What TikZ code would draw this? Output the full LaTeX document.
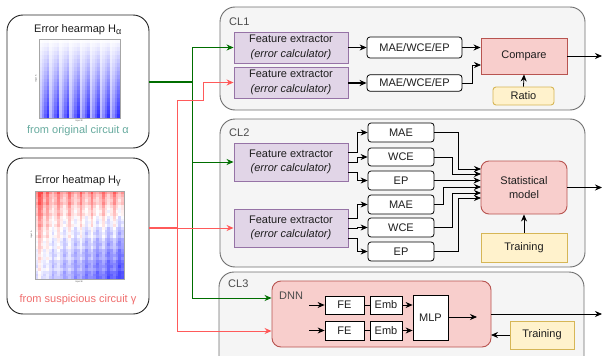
\documentclass[tikz,border=0pt]{standalone}
\usepackage{fontspec}
\setmainfont{Liberation Sans}
\usetikzlibrary{arrows.meta}
\definecolor{gline}{RGB}{0,110,0}
\definecolor{rline}{RGB}{255,90,90}
\definecolor{rtip}{RGB}{255,50,50}
\definecolor{feF}{RGB}{225,213,231}
\definecolor{feD}{RGB}{150,115,166}
\definecolor{pkF}{RGB}{248,206,204}
\definecolor{pkD}{RGB}{184,84,80}
\definecolor{ylF}{RGB}{255,242,204}
\definecolor{ylD}{RGB}{214,182,86}
\definecolor{clF}{RGB}{245,245,245}
\definecolor{clD}{RGB}{110,110,110}
\definecolor{tealT}{RGB}{103,171,159}
\definecolor{redT}{RGB}{240,110,110}
\definecolor{txt}{RGB}{30,30,30}
\tikzset{
  container/.style={draw=clD, fill=clF, rounded corners=15pt, line width=0.9pt},
  febox/.style={draw=feD, fill=feF, line width=0.9pt, minimum width=114pt, inner sep=0pt, align=center, text=txt, font=\fontsize{11}{14.5}\selectfont},
  wbox/.style={draw=black, fill=white, rounded corners=3pt, line width=0.8pt, inner sep=0pt, text=txt},
  sqbox/.style={draw=black, fill=white, line width=0.8pt, inner sep=0pt, text=txt},
  pkbox/.style={draw=pkD, fill=pkF, line width=0.9pt, inner sep=0pt, align=center, text=txt, font=\fontsize{11}{14}\selectfont},
  ylbox/.style={draw=ylD, fill=ylF, line width=0.9pt, inner sep=0pt, text=txt},
  srcbox/.style={draw=black!85, fill=white, rounded corners=16pt, line width=0.9pt},
  arr/.style={->, line width=0.8pt, black},
  garr/.style={-{Stealth[length=7pt,width=6pt]}, line width=0.9pt, gline},
  rarr/.style={-{Stealth[length=7pt,width=6pt,fill=rtip]}, draw=rline, line width=0.9pt},
  lbl/.style={text=txt!80, inner sep=0pt, anchor=west},
  tinyl/.style={font=\fontsize{2.2}{2.5}\selectfont, text=black!70, inner sep=0pt}
}
\begin{document}
\begin{tikzpicture}[x=1pt,y=-1pt, font=\fontsize{11}{12}\selectfont, >={Stealth[length=7pt,width=6pt]}]
\useasboundingbox (0,0) rectangle (603,356);
\clip (0,0) rectangle (603,356);

% ---------- source boxes ----------
\draw[srcbox] (7,15) rectangle (149,148);
\draw[srcbox] (7,158) rectangle (149,314);
\node[text=txt, inner sep=0pt] (ta) at (78,30) {Error hearmap H\textsubscript{\fontsize{9}{9}\selectfont α}};
\node[text=tealT, inner sep=0pt] (fa) at (78,131) {from original circuit α};
\node[text=txt, inner sep=0pt] (tg) at (78,181) {Error heatmap H\textsubscript{\fontsize{9}{9}\selectfont γ}};
\node[text=redT, inner sep=0pt] (fg) at (78,300) {from suspicious circuit γ};

% heatmap alpha
\foreach \i in {0,...,31}{
  \foreach \j in {0,...,19}{
    \pgfmathsetmacro\p{mod(\i,4)/3}
    \pgfmathsetmacro\t{(\j+0.5)/20}
    \pgfmathsetmacro\a{0.82*\t*(0.35+0.65*\p)}
    \pgfmathsetmacro\R{1-\a}
    \definecolor{hc}{rgb}{\R,\R,1}
    \fill[hc] ({39+\i*81/32},{39+\j*79/20}) rectangle ++(2.9,4.3);
  }
}
\draw[black!35, line width=0.4pt] (39,39) rectangle (120,118);
\node[tinyl] (ia) at (79,121) {Input B};
\node[tinyl, rotate=90] (ib) at (36,79) {Input A};

% heatmap gamma
\foreach \i in {0,...,31}{
  \foreach \j in {0,...,31}{
    \pgfmathsetmacro\u{\i/31}
    \pgfmathsetmacro\w{\j/31}
    \pgfmathsetmacro\v{0.5*(1-\w)*(1-\w) - 0.85*\w*\u - 0.1*\w + 0.3*(mod(\i,4)==0)*(1-0.7*\w) - 0.15*(mod(\i,4)==2) + 0.1*(mod(\j,4)==0) - 0.06*(mod(\i+\j,3)==0) + 0.55*(\i>0)*(\i<3)*(1-0.7*\w) - 0.2*(\i==0)}
    \pgfmathsetmacro\a{min(1,abs(\v))*0.72}
    \pgfmathsetmacro\R{\v>=0 ? 1 : 1-\a}
    \pgfmathsetmacro\B{\v>=0 ? 1-\a : 1}
    \pgfmathsetmacro\G{1-\a}
    \definecolor{hc}{rgb}{\R,\G,\B}
    \fill[hc] ({35+\i*89/32},{191+\j*88/32}) rectangle ++(3.1,3.1);
  }
}
\draw[black!35, line width=0.4pt] (35,191) rectangle (124,279);
\node[tinyl] (ic) at (79,282) {Input B};
\node[tinyl, rotate=90] (id) at (31.5,235) {Input A};

% ---------- containers ----------
\draw[container] (220,7) rectangle (585,110);
\draw[container] (220,119) rectangle (585,267);
\draw[container] (219,272) rectangle (584,380);
\node[lbl] (cl1) at (229,22) {CL1};
\node[lbl] (cl2) at (229,133) {CL2};
\node[lbl] (cl3) at (228,284) {CL3};

% ---------- CL1 ----------
\node[febox, minimum height=31pt] (fea1) at (291,47.5) {Feature extractor\\\textit{(error calculator)}};
\node[febox, minimum height=31pt] (fea2) at (291,82.5) {Feature extractor\\\textit{(error calculator)}};
\node[wbox, minimum width=95pt, minimum height=21pt] (m1) at (414.5,47.5) {MAE/WCE/EP};
\node[wbox, minimum width=95pt, minimum height=16.5pt] (m2) at (414.5,83) {MAE/WCE/EP};
\node[pkbox, minimum width=86pt, minimum height=36pt] (cmp) at (524,56) {Compare};
\node[ylbox, minimum width=61pt, minimum height=18pt, rounded corners=3pt] (ratio) at (523.5,96) {Ratio};
\coordinate (o1) at (602,56);

\draw[arr] (fea1.east) -- (m1.west);
\draw[arr, line width=1.6pt] (fea2.east |- m2.west) -- (m2.west);
\draw[arr] (m1.east) -- (m1.east -| cmp.west);
\draw[arr] (m2.east) -- (472,83) -- (472,65) -- (481,65);
\draw[arr] (ratio.north) -- (cmp.south);
\draw[arr] (cmp.east) -- (o1);

% ---------- CL2 ----------
\node[febox, minimum height=38pt] (feb1) at (291,162) {Feature extractor\\\textit{(error calculator)}};
\node[febox, minimum height=38pt] (feb2) at (291,228) {Feature extractor\\\textit{(error calculator)}};
\node[wbox, minimum width=66pt, minimum height=19pt] (a1) at (401,132.5) {MAE};
\node[wbox, minimum width=66pt, minimum height=18pt] (b1) at (401,157) {WCE};
\node[wbox, minimum width=66pt, minimum height=19pt] (c1) at (401,180.5) {EP};
\node[wbox, minimum width=66pt, minimum height=19pt] (a2) at (401,204.5) {MAE};
\node[wbox, minimum width=66pt, minimum height=19pt] (b2) at (401,227.5) {WCE};
\node[wbox, minimum width=66pt, minimum height=19pt] (c2) at (401,251.5) {EP};
\node[pkbox, minimum width=86pt, minimum height=53pt, rounded corners=8pt] (sm) at (524,187.5) {Statistical\\model};
\node[ylbox, minimum width=86pt, minimum height=29pt] (tr) at (524,247.5) {Training};
\coordinate (o2) at (602,187.5);

\draw[arr] ([yshift=10pt]feb1.east) -- (357,152) -- (357,132.5) -- (a1.west);
\draw[arr] (feb1.east) -- (357,162) -- (357,157) -- (b1.west);
\draw[arr] ([yshift=-10pt]feb1.east) -- (357,172) -- (357,180.5) -- (c1.west);
\draw[arr] ([yshift=10pt]feb2.east) -- (357,218) -- (357,204.5) -- (a2.west);
\draw[arr] (feb2.east) -- (357,228) -- (357,227.5) -- (b2.west);
\draw[arr] ([yshift=-10pt]feb2.east) -- (357,238) -- (357,251.5) -- (c2.west);

\draw[arr] (a1.east) -- (458,132.5) -- (458,169) -- (481,169);
\draw[arr] (b1.east) -- (452,157) -- (452,174) -- (481,174);
\draw[arr] (c1.east) -- (c1.east -| sm.west);
\draw[arr] (a2.east) -- (443,204.5) -- (443,187) -- (481,187);
\draw[arr] (b2.east) -- (452,227.5) -- (452,193) -- (481,193);
\draw[arr] (c2.east) -- (458,251.5) -- (458,198) -- (481,198);
\draw[arr] (tr.north) -- (sm.south);
\draw[arr] (sm.east) -- (o2);

% ---------- CL3 ----------
\node[pkbox, minimum width=219pt, minimum height=66pt, rounded corners=9pt] (dnn) at (381.5,314) {};
\node[lbl] (dnnl) at (279,296) {DNN};
\node[sqbox, minimum width=39pt, minimum height=18pt] (f3a) at (344.5,305) {FE};
\node[sqbox, minimum width=39pt, minimum height=19pt] (f3b) at (344.5,330.5) {FE};
\node[sqbox, minimum width=32pt, minimum height=18pt] (e3a) at (386,305) {Emb};
\node[sqbox, minimum width=32pt, minimum height=19pt] (e3b) at (386,330.5) {Emb};
\node[sqbox, minimum width=35pt, minimum height=45pt] (mlp) at (430.5,317.5) {MLP};
\node[ylbox, minimum width=64pt, minimum height=28pt] (tr3) at (542,335) {Training};
\coordinate (i3a) at (309,305);
\coordinate (i3b) at (309,330.5);
\coordinate (mo) at (477,317);
\coordinate (o3) at (602,314);
\coordinate (ti) at (491,335);

\draw[arr] (i3a) -- (f3a.west);
\draw[arr] (i3b) -- (f3b.west);
\draw[line width=0.8pt] (f3a.east) -- (e3a.west);
\draw[line width=0.8pt] (f3b.east) -- (e3b.west);
\draw[arr] (e3a.east) -- (e3a.east -| mlp.west);
\draw[arr] (e3b.east) -- (e3b.east -| mlp.west);
\draw[arr] (mlp.east |- mo) -- (mo);
\draw[arr] (dnn.east |- o3) -- (o3);
\draw[arr] (tr3.west) -- (ti);

% ---------- green (alpha) connectors ----------
\coordinate (gj) at (192,82);
\draw[gline, line width=1.6pt] (149,82) -- (gj);
\draw[gline, line width=0.9pt] (192,47.5) -- (192,298);
\draw[garr] (192,47.5) -- (fea1.west);
\draw[garr] (192,162) -- (feb1.west);
\draw[garr] (192,298) -- (dnn.west |- 0,298);

% ---------- red (gamma) connectors ----------
\draw[rline, line width=1.6pt] (149,228) -- (177,228);
\draw[rarr] (177,228) -- (feb2.west);
\draw[rline, line width=0.9pt] (177,100) -- (177,331);
\draw[rarr] (177,100) -- (203,100) -- (203,82.5) -- (fea2.west);
\draw[rarr] (177,331) -- (dnn.west |- 0,331);
\end{tikzpicture}
\end{document}
